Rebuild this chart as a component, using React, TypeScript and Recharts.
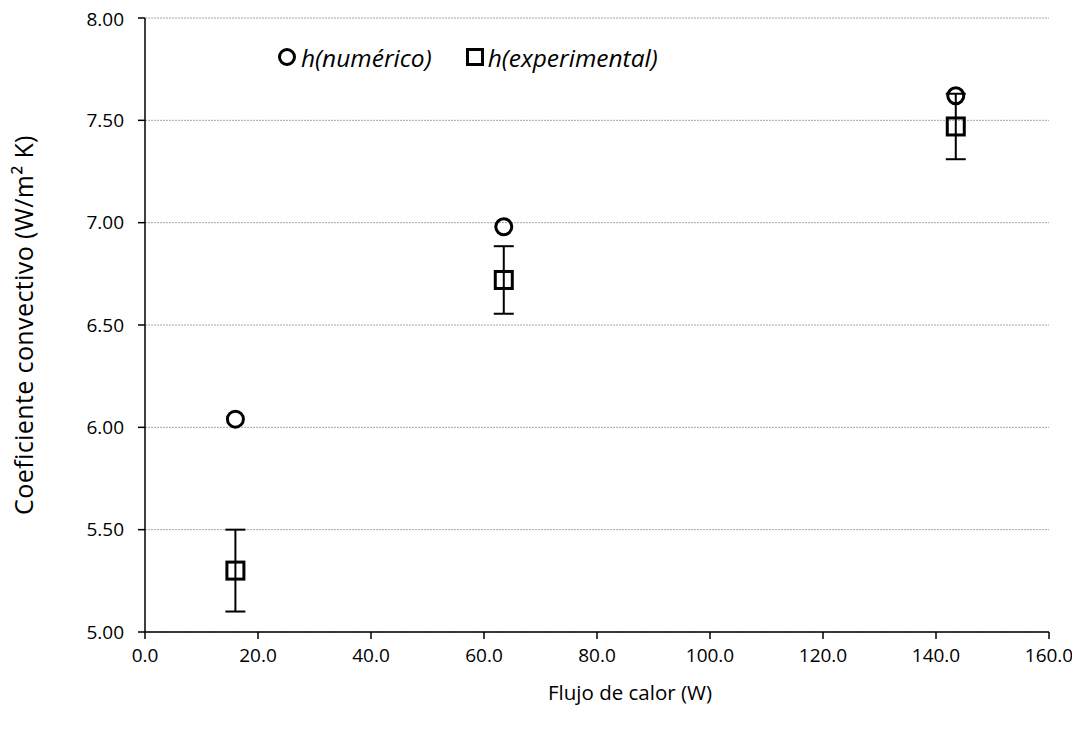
import React from "react";
import {
  ScatterChart,
  Scatter,
  XAxis,
  YAxis,
  CartesianGrid,
  ErrorBar,
  Label,
} from "recharts";

const FONT = "'Open Sans', 'Noto Sans', sans-serif";

const heatFlux = [16.0, 63.5, 143.5];
const hNumerico = [6.04, 6.98, 7.62];
const hExperimental = [5.3, 6.72, 7.47];
const hExpError = [0.2, 0.165, 0.16];

const xTicks = [0, 20, 40, 60, 80, 100, 120, 140, 160];
const yTicks = [5.0, 5.5, 6.0, 6.5, 7.0, 7.5, 8.0];

const numData = heatFlux.map((x, i) => ({ x, y: hNumerico[i] }));
const expData = heatFlux.map((x, i) => ({ x, y: hExperimental[i], err: hExpError[i] }));

function CircleShape(props: any) {
  const { cx, cy } = props;
  return <circle cx={cx} cy={cy} r={8} fill="none" stroke="#000" strokeWidth={3} />;
}

function SquareShape(props: any) {
  const { cx, cy } = props;
  return <rect x={cx - 8.5} y={cy - 8.5} width={17} height={17} fill="none" stroke="#000" strokeWidth={3} />;
}

function LegendBox() {
  return (
    <div
      style={{
        position: "absolute",
        top: 37,
        left: 269,
        display: "flex",
        alignItems: "center",
        height: 24,
        fontFamily: FONT,
        fontStyle: "italic",
        fontSize: 24.5,
        color: "#000",
        whiteSpace: "nowrap",
      }}
    >
      <svg width={20} height={20}>
        <circle cx={10} cy={10} r={7.5} fill="none" stroke="#000" strokeWidth={3} />
      </svg>
      <span style={{ marginLeft: 4 }}>h(numérico)</span>
      <svg width={20} height={20} style={{ marginLeft: 33 }}>
        <rect x={2.5} y={2.5} width={15} height={15} fill="none" stroke="#000" strokeWidth={3} />
      </svg>
      <span style={{ marginLeft: 3 }}>h(experimental)</span>
    </div>
  );
}

export default function App() {
  const tickStyle = { fontFamily: FONT, fontSize: 19, fill: "#000" };
  return (
    <div style={{ position: "relative", width: 1072, height: 732, background: "#fff" }}>
      <ScatterChart width={1072} height={732} margin={{ top: 10, right: 31, bottom: 0, left: 0 }}>
        <CartesianGrid vertical={false} stroke="#a6a6a6" strokeDasharray="2 1" />
        <XAxis
          type="number"
          dataKey="x"
          domain={[0, 160]}
          ticks={xTicks}
          tickFormatter={(v: number) => v.toFixed(1)}
          tick={tickStyle}
          tickSize={7}
          tickMargin={10}
          axisLine={{ stroke: "#000", strokeWidth: 1.5 }}
          tickLine={{ stroke: "#000", strokeWidth: 1.5 }}
          height={108}
        >
          <Label
            content={({ viewBox }: any) => (
              <text
                x={viewBox.x + viewBox.width / 2 + 33}
                y={viewBox.y + 68}
                textAnchor="middle"
                style={{ fontFamily: FONT, fontSize: 20.5, fill: "#000" }}
              >
                Flujo de calor (W)
              </text>
            )}
          />
        </XAxis>
        <YAxis
          type="number"
          dataKey="y"
          domain={[5, 8]}
          ticks={yTicks}
          tickFormatter={(v: number) => v.toFixed(2)}
          tick={tickStyle}
          tickSize={7}
          tickMargin={14}
          axisLine={{ stroke: "#000", strokeWidth: 1.5 }}
          tickLine={{ stroke: "#000", strokeWidth: 1.5 }}
          width={137}
        >
          <Label
            content={({ viewBox }: any) => {
              const cx = 15;
              const cy = viewBox.y + viewBox.height / 2;
              return (
                <text
                  x={cx}
                  y={cy}
                  transform={`rotate(-90 ${cx} ${cy})`}
                  textAnchor="middle"
                  dominantBaseline="central"
                  style={{ fontFamily: FONT, fontSize: 25, letterSpacing: 0.4, fill: "#000" }}
                >
                  Coeficiente convectivo (W/m² K)
                </text>
              );
            }}
          />
        </YAxis>
        <Scatter name="h(numérico)" data={numData} shape={<CircleShape />} isAnimationActive={false} />
        <Scatter name="h(experimental)" data={expData} shape={<SquareShape />} isAnimationActive={false}>
          <ErrorBar dataKey="err" direction="y" width={10} stroke="#000" strokeWidth={2} />
        </Scatter>
      </ScatterChart>
      <LegendBox />
    </div>
  );
}
